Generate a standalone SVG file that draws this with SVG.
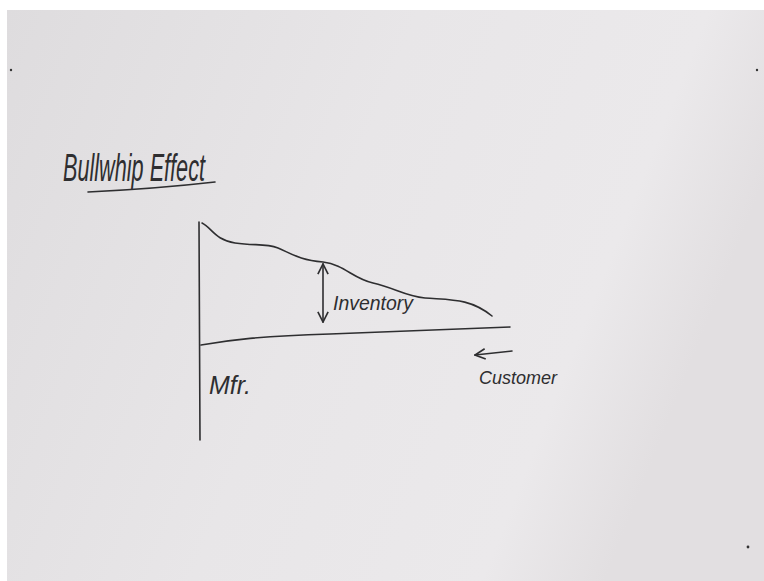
<svg xmlns="http://www.w3.org/2000/svg" width="764" height="581" viewBox="0 0 764 581">
<style>
.ink{fill:none;stroke:#2e2e30;stroke-width:1.6;stroke-linecap:round;stroke-linejoin:round}
.txt{font-family:"Liberation Sans","DejaVu Sans",sans-serif;font-style:italic;fill:#2e2e30}
</style>
<defs>
<linearGradient id="bg" x1="0" y1="0" x2="1" y2="0.3">
<stop offset="0" stop-color="#dedcde"/>
<stop offset="0.5" stop-color="#e8e6e8"/>
<stop offset="0.85" stop-color="#ebe9eb"/>
<stop offset="1" stop-color="#e2dfe1"/>
</linearGradient>
<marker id="ah" viewBox="0 0 10 10" refX="9" refY="5" markerWidth="8" markerHeight="8" orient="auto-start-reverse">
<path d="M1,1 L9,5 L1,9" fill="none" stroke="#2e2e30" stroke-width="1.3"/>
</marker>
</defs>
<rect width="764" height="581" fill="#ffffff"/>
<rect x="7" y="10" width="757" height="571" fill="url(#bg)"/>
<circle cx="11" cy="70" r="1.2" fill="#333"/>
<circle cx="757" cy="70" r="1.2" fill="#333"/>
<circle cx="748" cy="547" r="1.4" fill="#333"/>
<g id="title">
<text class="txt" x="63" y="181" font-size="38" textLength="142" lengthAdjust="spacingAndGlyphs">Bullwhip Effect</text>
<path class="ink" d="M88,192 C130,190 180,186 215,182"/>
</g>
<g id="axes">
<path class="ink" d="M199,222 L200,440"/>
<path class="ink" d="M201,345 C230,340 260,336 330,334 C420,331 470,329 510,327"/>
</g>
<g id="curve">
<path class="ink" d="M202,223 C212,228 215,240 235,243 C255,246 265,243 278,248 C292,254 300,260 323,262 C345,265 352,278 373,283 C395,288 405,296 425,298 C450,300 470,298 492,316"/>
</g>
<g id="inventory">
<text class="txt" x="333" y="310" font-size="20" textLength="80" lengthAdjust="spacingAndGlyphs">Inventory</text>
</g>
<g id="mfr">
<text class="txt" x="209" y="394" font-size="26" textLength="42" lengthAdjust="spacingAndGlyphs">Mfr.</text>
</g>
<g id="customer">
<text class="txt" x="479" y="384" font-size="19" textLength="78" lengthAdjust="spacingAndGlyphs">Customer</text>
</g>
<g id="connectors">
<path class="ink" d="M323,264 L323,322" marker-start="url(#ah)" marker-end="url(#ah)"/>
<path class="ink" d="M512,351 L475,355" marker-end="url(#ah)"/>
</g>
</svg>
